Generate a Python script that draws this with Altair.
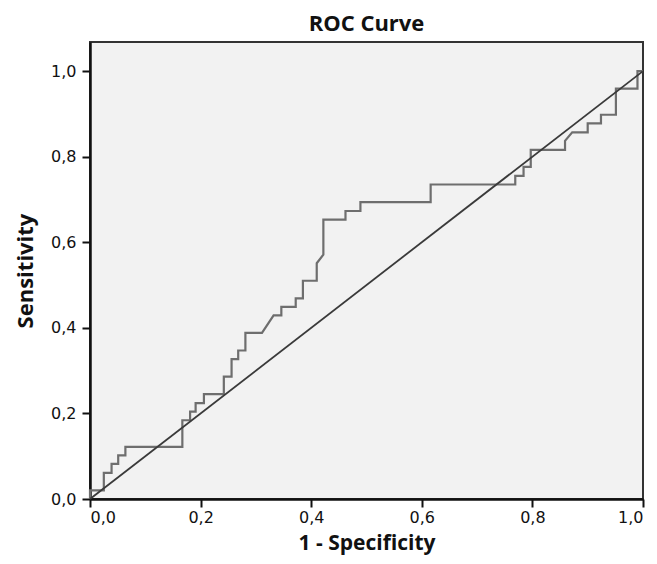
import altair as alt
import pandas as pd

# ROC step-curve vertices (1 - specificity, sensitivity)
fpr = [0.000, 0.000, 0.025, 0.025, 0.039, 0.039, 0.051, 0.051, 0.064, 0.064,
       0.167, 0.167, 0.181, 0.181, 0.191, 0.191, 0.206, 0.206, 0.242, 0.242,
       0.256, 0.256, 0.268, 0.268, 0.281, 0.281, 0.311, 0.332, 0.346, 0.346,
       0.372, 0.372, 0.385, 0.385, 0.410, 0.410, 0.422, 0.422, 0.462, 0.462,
       0.489, 0.489, 0.616, 0.616, 0.769, 0.769, 0.784, 0.784, 0.797, 0.797,
       0.859, 0.859, 0.872, 0.900, 0.900, 0.924, 0.924, 0.951, 0.951, 0.990,
       0.990, 1.000]
tpr = [0.000, 0.020, 0.020, 0.061, 0.061, 0.082, 0.082, 0.102, 0.102, 0.122,
       0.122, 0.184, 0.184, 0.204, 0.204, 0.224, 0.224, 0.245, 0.245, 0.286,
       0.286, 0.327, 0.327, 0.347, 0.347, 0.388, 0.388, 0.429, 0.429, 0.449,
       0.449, 0.469, 0.469, 0.510, 0.510, 0.551, 0.571, 0.653, 0.653, 0.673,
       0.673, 0.694, 0.694, 0.735, 0.735, 0.755, 0.755, 0.776, 0.776, 0.816,
       0.816, 0.837, 0.857, 0.857, 0.878, 0.878, 0.898, 0.898, 0.959, 0.959,
       1.000, 1.000]

# reference diagonal
ref_x = [0.0, 1.0]
ref_y = [0.0, 1.0]

tick_values = [0.0, 0.2, 0.4, 0.6, 0.8, 1.0]

roc = pd.DataFrame({"fpr": fpr, "tpr": tpr, "i": list(range(len(fpr)))})
ref = pd.DataFrame({"fpr": ref_x, "tpr": ref_y, "i": [0, 1]})

label_expr = "replace(format(datum.value, '.1f'), '.', ',')"

common_axis = dict(
    values=tick_values, labelExpr=label_expr, grid=False,
    domainColor="#111111", domainWidth=2.5,
    tickColor="#111111", tickWidth=2, tickSize=8,
    labelFont="DejaVu Sans", labelFontSize=16, labelColor="#111111",
    titleFont="Open Sans", titleFontWeight="bold", titleColor="#111111",
    titleFontSize=22,
)

xaxis = alt.Axis(title="1 - Specificity", titlePadding=7, labelPadding=2,
                 **{**common_axis, "titleFontSize": 21})
yaxis = alt.Axis(title="Sensitivity", titlePadding=13, labelPadding=6,
                 **common_axis)

xscale = alt.Scale(domain=[0, 1], nice=False, zero=False)
yscale = alt.Scale(domain=[0, 1.068], nice=False, zero=False)

base_x = alt.X("fpr:Q", scale=xscale, axis=xaxis)
base_y = alt.Y("tpr:Q", scale=yscale, axis=yaxis)

roc_line = alt.Chart(roc).mark_line(color="#6e6e6e", strokeWidth=2.2).encode(
    x=base_x, y=base_y, order="i:Q"
)
ref_line = alt.Chart(ref).mark_line(color="#3a3a3a", strokeWidth=1.8).encode(
    x=base_x, y=base_y, order="i:Q"
)

chart = alt.layer(roc_line, ref_line).properties(
    width=553,
    height=457,
    title=alt.TitleParams("ROC Curve", font="Open Sans", fontSize=22,
                          fontWeight="bold", anchor="middle", color="#111111",
                          offset=6),
    autosize=alt.AutoSizeParams(type="none"),
    padding={"left": 82, "top": 34, "right": 4, "bottom": 57},
).configure(background="white").configure_view(
    fill="#f2f2f2", stroke="#333333", strokeWidth=2
)

chart.save("out.html", embed_options={"renderer": "svg", "actions": False})
